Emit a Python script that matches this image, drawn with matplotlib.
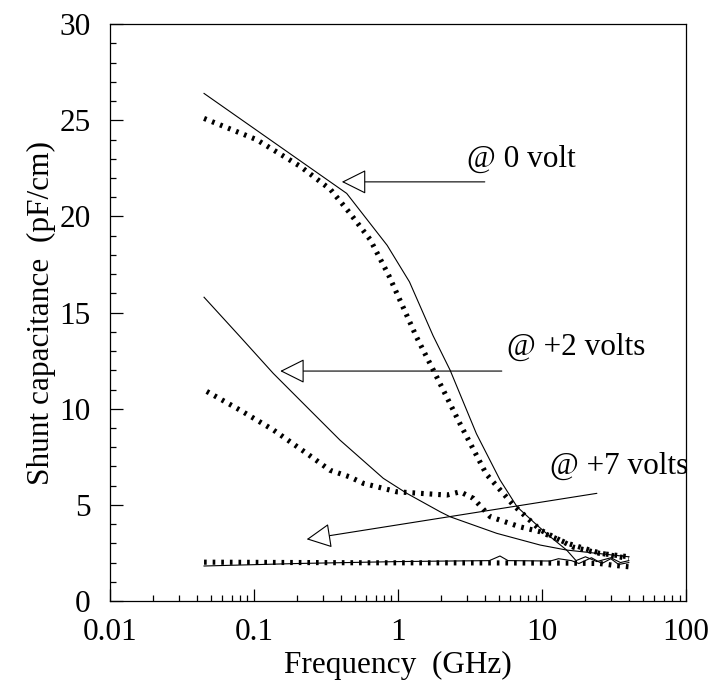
import matplotlib
matplotlib.use("Agg")
import matplotlib.pyplot as plt
from matplotlib.ticker import MultipleLocator, LogLocator, FixedLocator, NullFormatter

plt.rcParams['font.family'] = ['Liberation Serif', 'DejaVu Serif']
plt.rcParams['lines.scale_dashes'] = False

# Frequency (GHz) and shunt capacitance (pF/cm)
f_0v_a = [0.045, 0.44, 0.84, 1.2, 1.75, 2.3, 3.5, 5.1, 6.7, 9.2, 11.4, 14.8, 17.2, 20, 24, 30, 35, 40]
c_0v_a = [26.4, 21.2, 18.5, 16.6, 13.8, 12.0, 8.7, 6.3, 4.9, 3.95, 3.34, 2.65, 2.1, 2.3, 2.05, 2.25, 2.0, 2.1]

f_0v_b = [0.045, 0.104, 0.21, 0.34, 0.46, 0.64, 0.86, 1.35, 1.76, 2.7, 4.1, 6.3, 9.7, 16.5, 25, 40]
c_0v_b = [25.1, 24.0, 22.6, 21.4, 20.2, 18.8, 16.95, 13.7, 12.0, 9.2, 6.6, 5.0, 3.7, 2.8, 2.48, 2.3]

f_2v_a = [0.045, 0.08, 0.136, 0.232, 0.395, 0.79, 1.15, 1.96, 2.3, 4.84, 9.7, 14.8, 40]
c_2v_a = [15.8, 13.75, 11.84, 10.1, 8.37, 6.38, 5.6, 4.64, 4.38, 3.52, 2.91, 2.65, 2.3]

f_2v_b = [0.047, 0.08, 0.136, 0.232, 0.337, 0.46, 0.574, 0.98, 2.18, 2.7, 3.33, 4.37, 7.0, 9.7, 15, 25, 40]
c_2v_b = [10.9, 9.93, 8.9, 7.68, 6.8, 6.46, 6.12, 5.68, 5.51, 5.68, 5.34, 4.38, 3.86, 3.6, 3.0, 2.5, 2.2]

f_7v_a = [0.045, 0.2, 1.0, 2.3, 4.3, 5.1, 5.8, 11.4, 13, 16, 18, 22, 26, 30, 34, 40]
c_7v_a = [1.82, 1.95, 2.05, 2.08, 2.1, 2.34, 2.1, 2.08, 2.2, 2.1, 1.95, 2.25, 1.95, 2.2, 1.9, 2.0]

f_7v_b = [0.045, 0.5, 5.0, 15, 25, 32, 40]
c_7v_b = [2.02, 1.99, 1.98, 1.97, 1.95, 1.85, 1.78]

labels = ['@ 0 volt', '@ +2 volts', '@ +7 volts']
label_pos = [(3.0, 23.0), (5.7, 13.2), (11.4, 7.0)]
arrow_tail = [(4.0, 21.8), (5.25, 11.96), (24.0, 5.6)]
arrow_tip = [(0.407, 21.8), (0.152, 11.96), (0.232, 3.21)]

fig = plt.figure(figsize=(7.14, 6.92), dpi=100)
ax = fig.add_axes([0.154, 0.1315, 0.807, 0.8335])

solid_kw = dict(color='black', lw=0.8, solid_joinstyle='miter')
dot_kw = dict(color='black', lw=3.7, linestyle=(0, (1.9, 4.3)), dash_capstyle='butt')

ax.plot(f_0v_a, c_0v_a, **solid_kw)
ax.plot(f_0v_b, c_0v_b, **dot_kw)
ax.plot(f_2v_a, c_2v_a, **solid_kw)
ax.plot(f_2v_b, c_2v_b, **dot_kw)
ax.plot(f_7v_a, c_7v_a, **solid_kw)
ax.plot(f_7v_b, c_7v_b, **dot_kw)

for lab, pos in zip(labels, label_pos):
    ax.text(pos[0], pos[1], lab, fontsize=22.5, ha='left', va='center', clip_on=False)

for tail, tip in zip(arrow_tail, arrow_tip):
    ax.annotate('', xy=tip, xytext=tail,
                arrowprops=dict(arrowstyle='-|>,head_length=1.56,head_width=0.78',
                                mutation_scale=10, fc='white', ec='black', lw=0.8,
                                shrinkA=0, shrinkB=0))

ax.set_xscale('log')
ax.set_xlim(0.01, 100)
ax.set_ylim(0, 30)

ax.yaxis.set_major_locator(MultipleLocator(5))
ax.yaxis.set_minor_locator(MultipleLocator(1))
ax.xaxis.set_major_locator(FixedLocator([0.01, 0.1, 1, 10, 100]))
ax.xaxis.set_minor_locator(LogLocator(base=10, subs=range(2, 10)))
ax.xaxis.set_minor_formatter(NullFormatter())
ax.set_xticklabels(['0.01', '0.1', '1', '10', '100'])

ax.tick_params(which='both', direction='in', top=False, right=False, width=0.9,
               labelsize=22.5)
ax.tick_params(which='major', length=9)
ax.tick_params(which='minor', length=4)
ax.tick_params(axis='y', which='major', pad=14)
ax.tick_params(axis='x', which='major', pad=12)

for s in ax.spines.values():
    s.set_linewidth(0.9)

ax.set_xlabel('Frequency  (GHz)', fontsize=22.5, labelpad=3)
ax.set_ylabel('Shunt capacitance  (pF/cm)', fontsize=22.5, labelpad=2)

fig.savefig('out.png', dpi=100)
